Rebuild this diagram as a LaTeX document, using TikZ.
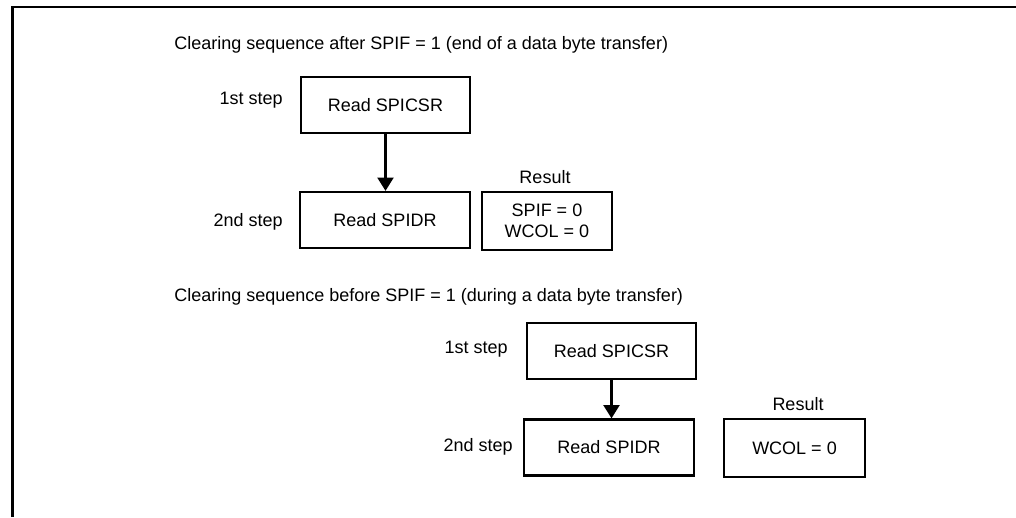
\documentclass[tikz,border=0pt]{standalone}
\usepackage{fontspec}
\setmainfont{Liberation Sans}
\usetikzlibrary{arrows.meta}

\begin{document}
\begin{tikzpicture}[x=0.75pt, y=-0.75pt, >={Triangle[width=12pt,length=10pt]},
    txt/.style={font=\fontsize{13.5}{16}\selectfont, inner sep=0pt},
    stepbox/.style={txt, draw, line width=1.7pt, minimum width=127pt, minimum height=42pt},
    resbox/.style={stepbox, align=center, minimum height=43.5pt}]
        % Frame (only top and left edges are visible)
        \useasboundingbox (0,0) rectangle (1016,517);
        \draw[line width=2.2pt] (12.5,517) -- (12.5,7) -- (1016,7);

        % Sequence after SPIF = 1
        \node[txt, anchor=west] (headA) at (174,45)
            {Clearing sequence after SPIF = 1 (end of a data byte transfer)};
        \node[stepbox] (csrA) at (385.5,105) {Read SPICSR};
        \node[stepbox] (idrA) at (385,220) {Read SPIDR};
        \node[txt, anchor=east] (stepA1) at (283,100) {1st step};
        \node[txt, anchor=east] (stepA2) at (283,222) {2nd step};
        \node[resbox, minimum width=97.5pt] (resA) at (547,221) {SPIF = 0\\WCOL = 0};
        \node[txt] (resA-lbl) at (545,177) {Result};
        \draw[->, line width=1.7pt] (csrA.south) -- (csrA.south |- idrA.north);

        % Sequence before SPIF = 1
        \node[txt, anchor=west] (headB) at (174,297)
            {Clearing sequence before SPIF = 1 (during a data byte transfer)};
        \node[stepbox] (csrB) at (611.5,351) {Read SPICSR};
        \node[stepbox] (idrB) at (609,447.5) {Read SPIDR};
        \node[txt, anchor=east] (stepB1) at (508,349) {1st step};
        \node[txt, anchor=east] (stepB2) at (513,447) {2nd step};
        \node[resbox, minimum width=105.5pt] (resB) at (794.5,448) {WCOL = 0};
        \node[txt] (resB-lbl) at (798,404) {Result};
        \draw[->, line width=1.7pt] (csrB.south) -- (csrB.south |- idrB.north);
    \end{tikzpicture}
\end{document}
